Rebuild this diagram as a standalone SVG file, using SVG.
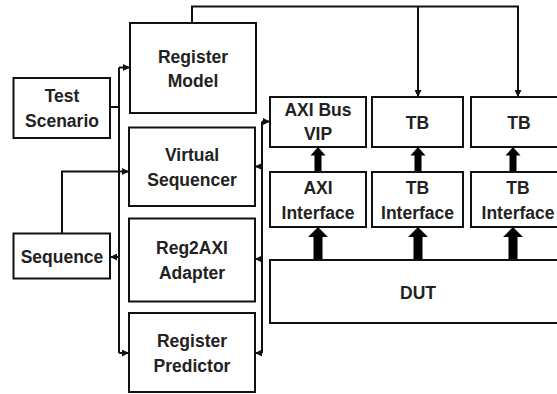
<svg xmlns="http://www.w3.org/2000/svg" width="557" height="394" viewBox="0 0 557 394">
<style>
.box{fill:#fff;stroke:#111;stroke-width:2}
.t{font-family:"Liberation Sans",Arial,sans-serif;font-weight:bold;font-size:17.5px;fill:#222;text-anchor:middle}
.c{fill:none;stroke:#111;stroke-width:2}
.big{fill:#000}
</style>
<defs>
<marker id="ah" markerUnits="userSpaceOnUse" markerWidth="7" markerHeight="7" refX="6" refY="3.5" orient="auto">
<path d="M0,0 L7,3.5 L0,7 Z" fill="#111"/>
</marker>
</defs>
<rect width="557" height="394" fill="#fff"/>
<g id="connectors">
<path class="c" d="M192,23 V6.5 H518 V96" marker-end="url(#ah)"/>
<path class="c" d="M418,6.5 V96" marker-end="url(#ah)"/>
<path class="c" d="M110,107 H119"/>
<path class="c" d="M119,67.5 V353"/>
<path class="c" d="M119,67.5 H129" marker-end="url(#ah)"/>
<path class="c" d="M119,353 H128" marker-end="url(#ah)"/>
<path class="c" d="M62,233 V171.5 H128" marker-end="url(#ah)"/>
<path class="c" d="M119,257 H111" marker-end="url(#ah)"/>
<path class="c" d="M262,121.5 V353"/>
<path class="c" d="M262,121.5 H269" marker-end="url(#ah)"/>
<path class="c" d="M262,166.5 H256" marker-end="url(#ah)"/>
<path class="c" d="M262,259 H256" marker-end="url(#ah)"/>
<path class="c" d="M262,353 H256" marker-end="url(#ah)"/>
<path class="big" d="M318,147 L325.5,155.5 L321.5,155.5 L321.5,172 L314.5,172 L314.5,155.5 L310.5,155.5 Z"/>
<path class="big" d="M418,147 L425.5,155.5 L421.5,155.5 L421.5,172 L414.5,172 L414.5,155.5 L410.5,155.5 Z"/>
<path class="big" d="M513,147 L520.5,155.5 L516.5,155.5 L516.5,172 L509.5,172 L509.5,155.5 L505.5,155.5 Z"/>
<path class="big" d="M318,227 L328,237 L322.5,237 L322.5,260 L313.5,260 L313.5,237 L308,237 Z"/>
<path class="big" d="M418,227 L428,237 L422.5,237 L422.5,260 L413.5,260 L413.5,237 L408,237 Z"/>
<path class="big" d="M513,227 L523,237 L517.5,237 L517.5,260 L508.5,260 L508.5,237 L503,237 Z"/>
</g>
<g id="test-scenario"><rect class="box" x="13.5" y="78" width="96.5" height="60"/><text class="t" x="62" y="102">Test</text><text class="t" x="62" y="127">Scenario</text></g>
<g id="sequence"><rect class="box" x="13.5" y="233.5" width="96.5" height="45"/><text class="t" x="62" y="262.5">Sequence</text></g>
<g id="register-model"><rect class="box" x="130" y="23" width="126" height="90"/><text class="t" x="193" y="62.5">Register</text><text class="t" x="193" y="87">Model</text></g>
<g id="virtual-sequencer"><rect class="box" x="129" y="127.5" width="126" height="78.5"/><text class="t" x="192" y="160.5">Virtual</text><text class="t" x="192" y="185.5">Sequencer</text></g>
<g id="reg2axi-adapter"><rect class="box" x="129" y="218.5" width="126" height="83"/><text class="t" x="192" y="254">Reg2AXI</text><text class="t" x="192" y="279">Adapter</text></g>
<g id="register-predictor"><rect class="box" x="129" y="313" width="126" height="79"/><text class="t" x="192" y="347">Register</text><text class="t" x="192" y="371.5">Predictor</text></g>
<g id="axi-bus-vip"><rect class="box" x="270" y="97" width="96" height="50"/><text class="t" x="318" y="116">AXI Bus</text><text class="t" x="318" y="140">VIP</text></g>
<g id="tb1"><rect class="box" x="372" y="97" width="91" height="50"/><text class="t" x="417.5" y="128.5">TB</text></g>
<g id="tb2"><rect class="box" x="471" y="97" width="96" height="50"/><text class="t" x="519" y="128.5">TB</text></g>
<g id="axi-interface"><rect class="box" x="270" y="172" width="96" height="55"/><text class="t" x="318" y="193.5">AXI</text><text class="t" x="318" y="218.5">Interface</text></g>
<g id="tb-interface1"><rect class="box" x="372" y="172" width="91" height="55"/><text class="t" x="417.5" y="193.5">TB</text><text class="t" x="417.5" y="218.5">Interface</text></g>
<g id="tb-interface2"><rect class="box" x="471" y="172" width="96" height="55"/><text class="t" x="518" y="193.5">TB</text><text class="t" x="518" y="218.5">Interface</text></g>
<g id="dut"><rect class="box" x="270" y="260" width="297" height="63"/><text class="t" x="418" y="298.5">DUT</text></g>
</svg>
